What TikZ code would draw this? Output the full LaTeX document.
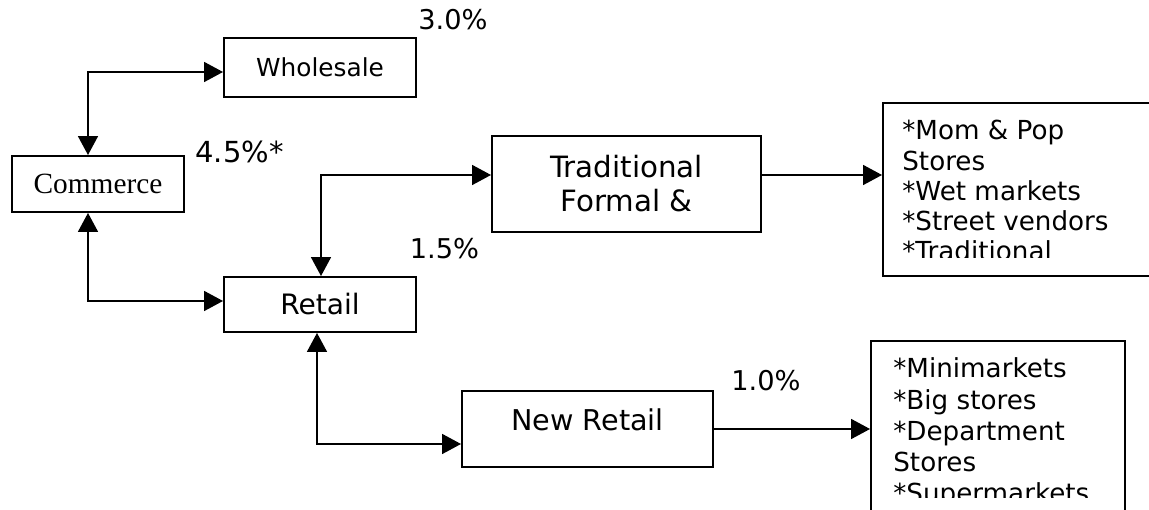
\documentclass[tikz,border=0pt]{standalone}
\usepackage{fontspec}
\setmainfont{DejaVu Sans}
\newfontfamily\commercefont{Liberation Serif}
\usetikzlibrary{arrows.meta}

\begin{document}
\begin{tikzpicture}[
    >={Triangle[length=0.38cm,width=0.4cm]},
    box/.style={shape=rectangle,draw=black,line width=1.1pt,inner sep=0pt},
    link/.style={line width=0.95pt},
    pct/.style={anchor=base,inner sep=0pt,font=\fontsize{15.5}{18}\selectfont},
    listline/.style={anchor=base west,inner sep=0pt,font=\fontsize{14.9}{18}\selectfont}
]
\useasboundingbox (0,0) rectangle (22.98,10.2);
\clip (0,0) rectangle (22.98,10.2);

%draw the sector boxes
\node [box,minimum width=3.84cm,minimum height=1.18cm,font=\fontsize{14.1}{17}\selectfont] at (6.4,8.85) (wholesale) {Wholesale};
\node [box,minimum width=3.44cm,minimum height=1.12cm,font=\commercefont\fontsize{16.7}{20}\selectfont] at (1.96,6.52) (commerce) {Commerce};
\node [box,minimum width=3.84cm,minimum height=1.1cm,font=\fontsize{16}{19}\selectfont] at (6.4,4.11) (retail) {Retail};
\node [box,minimum width=5.38cm,minimum height=1.92cm,align=center,font=\fontsize{16.7}{19.4}\selectfont] at (12.53,6.52) (traditional) {Traditional\\Formal \&};
\node [box,minimum width=5.02cm,minimum height=1.52cm,text depth=0.36cm,font=\fontsize{16.3}{19}\selectfont] at (11.75,1.62) (newretail) {New Retail};

%store type boxes, cut off by the page
\node [box,minimum width=5.74cm,minimum height=3.46cm] at (20.53,6.41) (tradstores) {};
\node [box,minimum width=5.08cm,minimum height=3.8cm] at (19.96,1.48) (newstores) {};

\begin{scope}
\clip (17.7,5.04) rectangle (22.98,8.4);
\foreach \txt [count=\i from 0] in {*Mom \& Pop,Stores,*Wet markets,*Street vendors,*Traditional}
  \node [listline] (tradline\i) at (18.04,{7.40-0.605*\i}) {\txt};
\end{scope}

\begin{scope}
\clip (17.45,0.24) rectangle (22.4,3.35);
\foreach \txt [count=\i from 0] in {*Minimarkets,*Big stores,*Department,Stores,*Supermarkets}
  \node [listline] (newline\i) at (17.86,{2.64-0.625*\i}) {\txt};
\end{scope}

%growth rates
\node [pct] at (9.06,9.6) (pctwholesale) {3.0\%};
\node [pct,font=\fontsize{16.5}{19}\selectfont] at (4.79,6.94) (pctcommerce) {4.5\%*};
\node [pct] at (8.89,5.02) (pctretail) {1.5\%};
\node [pct] at (15.32,2.38) (pctnew) {1.0\%};

%corners of the elbow connectors
\coordinate (cw) at (1.76,8.76);
\coordinate (cr) at (1.76,4.18);
\coordinate (ct) at (6.42,6.70);
\coordinate (cn) at (6.34,1.32);

\draw [<->,link] (commerce.north -| cw) -- (cw) -- (wholesale.west |- cw);
\draw [<->,link] (commerce.south -| cr) -- (cr) -- (retail.west |- cr);
\draw [<->,link] (retail.north -| ct) -- (ct) -- (traditional.west |- ct);
\draw [<->,link] (retail.south -| cn) -- (cn) -- (newretail.west |- cn);

%to the store lists
\draw [->,link] (traditional.east |- ct) -- (tradstores.west |- ct);
\draw [->,link] (newretail.east) -- (newretail.east -| newstores.west);
\end{tikzpicture}
\end{document}
